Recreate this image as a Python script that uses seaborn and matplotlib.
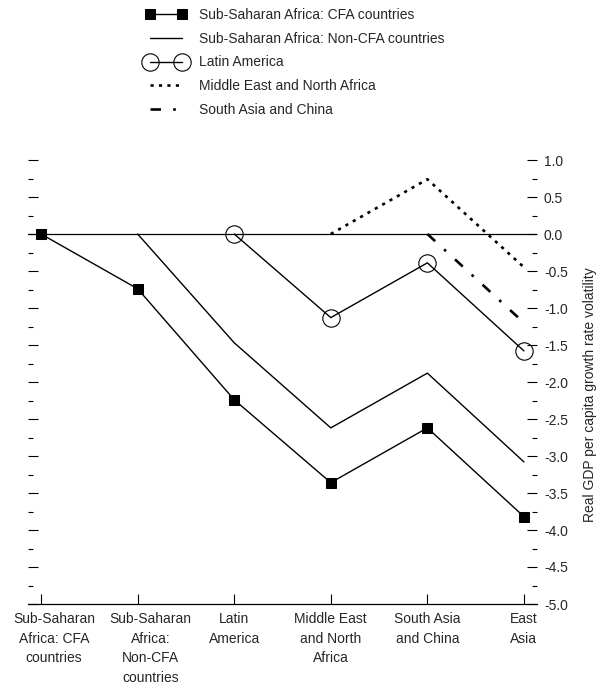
import numpy as np
import pandas as pd
import matplotlib
matplotlib.use("Agg")
import matplotlib.pyplot as plt
import matplotlib.transforms as mtransforms
from matplotlib.ticker import MultipleLocator, FormatStrFormatter
import seaborn as sns

# categories on the x axis (Excel-style wrapped labels)
categories = ["Sub-Saharan\nAfrica: CFA\ncountries",
              "Sub-Saharan\nAfrica:\nNon-CFA\ncountries",
              "Latin\nAmerica",
              "Middle East\nand North\nAfrica",
              "South Asia\nand China",
              "East\nAsia"]

# values (nan = series not drawn there)
nan = np.nan
cfa = [0.0, -0.74, -2.24, -3.36, -2.62, -3.82]
non_cfa = [nan, 0.0, -1.47, -2.62, -1.88, -3.08]
latin_america = [nan, nan, 0.0, -1.13, -0.39, -1.58]
mena = [nan, nan, nan, 0.0, 0.74, -0.45]
south_asia = [nan, nan, nan, nan, 0.0, -1.20]

series_names = ["Sub-Saharan Africa: CFA countries",
                "Sub-Saharan Africa: Non-CFA countries",
                "Latin America",
                "Middle East and North Africa",
                "South Asia and China"]
series_values = [cfa, non_cfa, latin_america, mena, south_asia]

y_label = "Real GDP per capita growth rate volatility"

# long table for seaborn
rows = []
for name, vals in zip(series_names, series_values):
    for pos, v in enumerate(vals):
        rows.append({"pos": pos, "value": v, "series": name})
df = pd.DataFrame(rows).dropna()

sns.set_style("white")
plt.rcParams['font.family'] = ['Liberation Sans', 'DejaVu Sans']
plt.rcParams['axes.unicode_minus'] = False

fig = plt.figure(figsize=(5.97, 6.84), dpi=100)
ax = fig.add_axes([28/597, 80/684, 509/597, 444/684])

ax.axhline(0, color='black', lw=0.9, zorder=1)

# one style per series
styles = {
    series_names[0]: dict(marker='s', markersize=7, markerfacecolor='black',
                          markeredgecolor='black', lw=1.0),
    series_names[1]: dict(lw=1.0),
    series_names[2]: dict(marker='o', markersize=12.5, markerfacecolor='none',
                          markeredgecolor='black', markeredgewidth=0.8, lw=1.0),
    series_names[3]: dict(lw=1.9, linestyle=(0, (1.2, 2.0))),
    series_names[4]: dict(lw=1.9, linestyle=(0, (4, 4.6, 1.0, 4.6))),
}

for name in series_names:
    sub = df[df["series"] == name]
    sns.lineplot(data=sub, x="pos", y="value", ax=ax, color='black',
                 errorbar=None, label=name, legend=False, **styles[name])

ax.set_xlabel("")
ax.set_ylabel("")
ax.set_xlim(-0.135, len(categories) - 1 + 0.135)
ax.set_ylim(-5, 1)

# spines: only the bottom one is drawn
for side in ["left", "right", "top"]:
    ax.spines[side].set_visible(False)
ax.spines["bottom"].set_color('black')
ax.spines["bottom"].set_linewidth(0.9)

# y ticks on both sides, labels on the right
ax.yaxis.set_major_locator(MultipleLocator(0.5))
ax.yaxis.set_minor_locator(MultipleLocator(0.25))
ax.yaxis.set_major_formatter(FormatStrFormatter('%.1f'))
ax.tick_params(axis='y', which='both', direction='in', left=True, right=True,
               labelleft=False, labelright=True, color='black', width=0.8,
               labelsize=10, pad=5)
ax.tick_params(axis='y', which='major', length=7)
ax.tick_params(axis='y', which='minor', length=3.5)

# x ticks
ax.set_xticks(range(len(categories)))
ax.set_xticklabels(categories, linespacing=1.5)
ax.tick_params(axis='x', direction='in', bottom=True, length=7, width=0.8,
               color='black', labelsize=10, pad=6)
# first two labels sit a bit to the right, as in the original
for lab in ax.get_xticklabels()[:2]:
    lab.set_transform(lab.get_transform() +
                      mtransforms.ScaledTranslation(13/100, 0, fig.dpi_scale_trans))

fig.text(590/597, 1 - 395/684, y_label, rotation=90, ha='center', va='center',
         fontsize=10)

handles, labels = ax.get_legend_handles_labels()
fig.legend(handles, labels, loc='upper left', bbox_to_anchor=(146/597, 1 - 8/684),
           frameon=False, fontsize=10, numpoints=2, handlelength=2.9,
           handletextpad=0.95, labelspacing=0.7, borderpad=0, borderaxespad=0)

fig.savefig('out.png', dpi=100)
